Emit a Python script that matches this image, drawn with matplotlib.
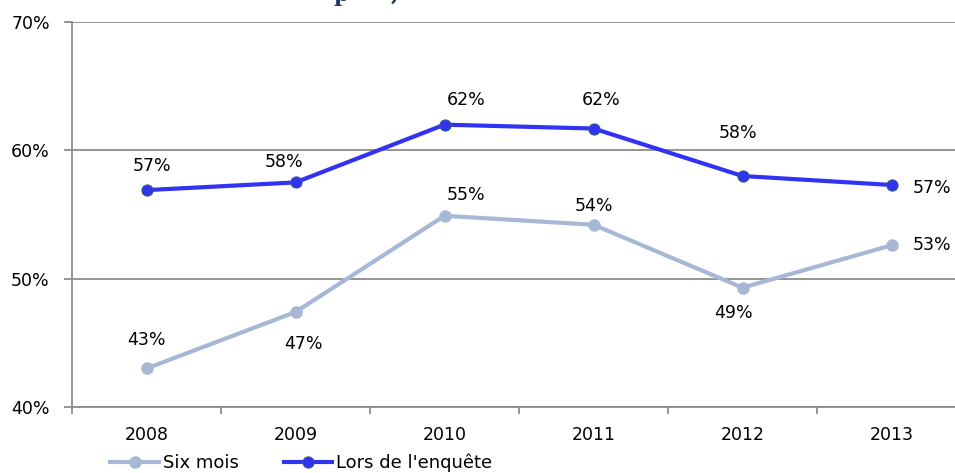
import matplotlib
matplotlib.use("Agg")
import matplotlib.pyplot as plt
from matplotlib.ticker import FixedLocator, PercentFormatter

# ---------------------------------------------------------------------------
# données
# ---------------------------------------------------------------------------
annees = ["2008", "2009", "2010", "2011", "2012", "2013"]
six_mois = [43.0, 47.4, 54.9, 54.2, 49.3, 52.6]
lors_enquete = [56.9, 57.5, 62.0, 61.7, 58.0, 57.3]

# décalage des étiquettes (pixels) par rapport au point
decal_six = [(0, 28), (8, -32), (21, 21), (0, 19), (-9, -25), (40, 0)]
decal_lors = [(6, 24), (-11, 20), (22, 25), (8, 29), (-5, 43), (40, -3)]

COUL_SIX = "#a7b7d6"
COUL_LORS = "#3232f2"
COUL_BORD = "#2d5a8c"
GRIS = "#8c8c8c"

plt.rcParams["font.family"] = ["DejaVu Sans"]

fig = plt.figure(figsize=(9.55, 4.73), dpi=100)
W, H = 955, 473
ax = fig.add_axes([72 / W, (H - 407) / H, (966 - 72) / W, (407 - 22) / H])

x = list(range(len(annees)))
ax.plot(x, six_mois, color=COUL_SIX, lw=3, marker="o", ms=8,
        mfc=COUL_SIX, mec=COUL_SIX, label="Six mois", zorder=3)
ax.plot(x, lors_enquete, color=COUL_LORS, lw=3, marker="o", ms=8,
        mfc=COUL_LORS, mec=COUL_BORD, mew=0.8, label="Lors de l'enquête", zorder=3)

# étiquettes de valeur
for serie, decal in ((six_mois, decal_six), (lors_enquete, decal_lors)):
    for xi, v, (dx, dy) in zip(x, serie, decal):
        ax.annotate(f"{round(v + 1e-9):d}%", (xi, v), xytext=(dx, dy),
                    textcoords="offset pixels", ha="center", va="center",
                    fontsize=12.5, color="black")

ax.set_xlim(-0.5, len(annees) - 0.5)
ax.set_ylim(40, 70)
ax.yaxis.set_major_locator(FixedLocator([40, 50, 60, 70]))
ax.yaxis.set_major_formatter(PercentFormatter(decimals=0))
ax.grid(axis="y", color=GRIS, lw=1.3)
ax.set_axisbelow(True)

ax.set_xticks(x)
ax.set_xticklabels(annees)
ax.set_xticks([i - 0.5 for i in range(len(annees) + 1)], minor=True)
ax.tick_params(axis="x", which="major", length=0, pad=14, labelsize=12.5)
ax.tick_params(axis="x", which="minor", length=5, color=GRIS, width=1.3)
ax.tick_params(axis="y", length=6, color=GRIS, width=1.3, pad=10, labelsize=12.5)

for s in ("top", "right"):
    ax.spines[s].set_visible(False)
for s in ("left", "bottom"):
    ax.spines[s].set_color(GRIS)
    ax.spines[s].set_linewidth(1.3)

# titre coupé en haut (seuls les jambages dépassent)
fig.text(333 / W, 1.0 - 1 / H, "p", fontsize=16, color="#1f3864", family="serif",
         fontweight="bold", ha="left", va="baseline")
fig.text(391 / W, 1.0 - 1 / H, ",", fontsize=16, color="#1f3864", family="serif",
         fontweight="bold", ha="left", va="baseline")

fig.legend(loc="lower left", bbox_to_anchor=(103 / W, -0.014), ncol=2,
           frameon=False, fontsize=13, handlelength=2.7, handletextpad=0.2,
           columnspacing=2.5, borderaxespad=0)

fig.savefig("out.png", dpi=100)
